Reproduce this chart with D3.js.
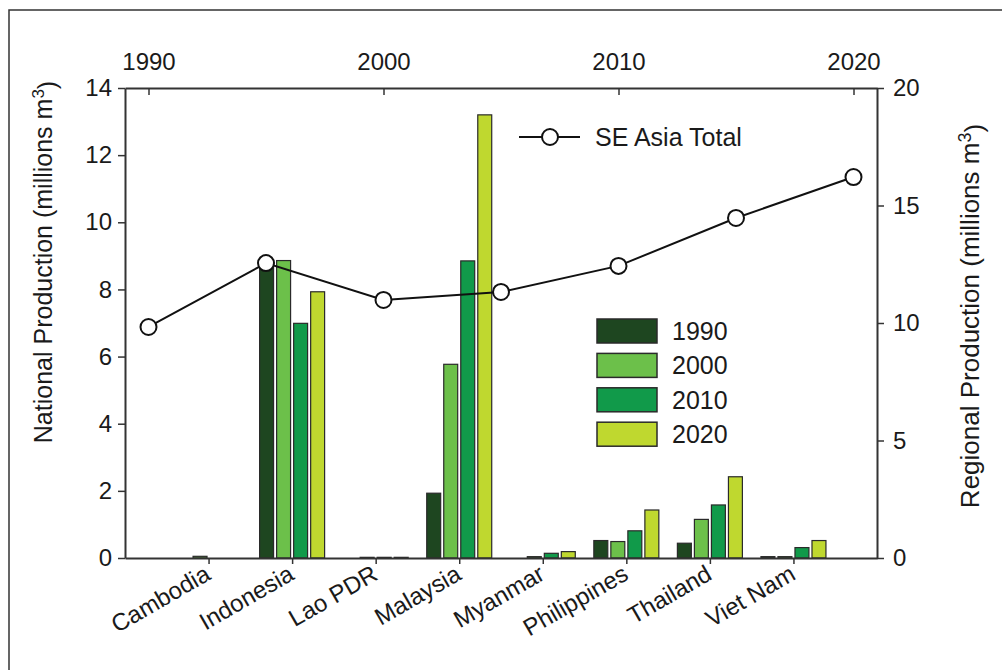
<!DOCTYPE html>
<html><head><meta charset="utf-8">
<script src="https://cdn.jsdelivr.net/npm/d3@7"></script>
<style>
body{margin:0;background:#fff}
text{font-family:"Liberation Sans",Arial,sans-serif;fill:#1a1a1a}
</style></head>
<body><svg id="c" width="1002" height="670"></svg>
<script>
const categories=["Cambodia","Indonesia","Lao PDR","Malaysia","Myanmar","Philippines","Thailand","Viet Nam"];
const seriesNames=["1990","2000","2010","2020"];
const v1990=[0,8.8,0,1.93,0,0.52,0.44,0.04];
const v2000=[0.05,8.86,0.02,5.77,0.04,0.49,1.15,0.04];
const v2010=[0,6.99,0.02,8.85,0.14,0.81,1.58,0.31];
const v2020=[0,7.93,0.02,13.2,0.19,1.43,2.42,0.52];
const seriesColors=["#1e4620","#6cc04a","#119a4a","#bfd82f"];
const totalYears=[1990,1995,2000,2005,2010,2015,2020];
const totalValues=[9.83,12.55,10.98,11.32,12.43,14.47,16.21];
const leftTicks=[0,2,4,6,8,10,12,14];
const rightTicks=[0,5,10,15,20];
const topTicks=[1990,2000,2010,2020];

const series=[v1990,v2000,v2010,v2020];
const svg=d3.select("#c");
const L=125,R=877,T=88,B=558;
const axisColor="#333";
const FONT='"Liberation Sans",Arial,sans-serif';

svg.append("rect").attr("x",9).attr("y",10).attr("width",1100).attr("height",1000)
  .attr("fill","none").attr("stroke","#333").attr("stroke-width",1.5);

const xCat=d3.scaleLinear().domain([0,categories.length+1]).range([L,R]);
const xOff=d3.scaleBand().domain(seriesNames).range([-32.5,32.5]).paddingInner(0.18);
const yL=d3.scaleLinear().domain([0,14]).range([B,T]);
const yR=d3.scaleLinear().domain([0,20]).range([B,T]);
const xYear=d3.scaleLinear().domain([1989,2021]).range([L,R]);

// bars
seriesNames.forEach((s,si)=>{
  const data=categories.map((c,i)=>({i,v:series[si][i]})).filter(d=>d.v>0);
  svg.append("g").selectAll("rect").data(data).join("rect")
    .attr("x",d=>xCat(d.i+1)+xOff(s))
    .attr("width",xOff.bandwidth())
    .attr("y",d=>yL(d.v))
    .attr("height",d=>B-yL(d.v))
    .attr("fill",seriesColors[si])
    .attr("stroke","#2a2a2a").attr("stroke-width",1.2);
});

function styleAxis(g){
  g.selectAll("path.domain").attr("stroke",axisColor).attr("stroke-width",2);
  g.selectAll(".tick line").attr("stroke",axisColor).attr("stroke-width",1.5);
  g.selectAll("text").attr("font-size",24).attr("font-family",FONT).attr("fill","#1a1a1a");
}

svg.append("g").attr("transform",`translate(${L},0)`)
  .call(d3.axisLeft(yL).tickValues(leftTicks).tickSize(7).tickSizeOuter(0).tickPadding(6))
  .call(styleAxis);
svg.append("g").attr("transform",`translate(${R},0)`)
  .call(d3.axisRight(yR).tickValues(rightTicks).tickSize(7).tickSizeOuter(0).tickPadding(9))
  .call(styleAxis);
svg.append("g").attr("transform",`translate(0,${T})`)
  .call(d3.axisTop(xYear).tickValues(topTicks).tickFormat(d3.format("d")).tickSize(-7).tickSizeOuter(0).tickPadding(18))
  .call(styleAxis);
const bx=svg.append("g").attr("transform",`translate(0,${B})`)
  .call(d3.axisBottom(xCat).tickValues(d3.range(1,categories.length+1)).tickFormat("").tickSize(6).tickSizeOuter(0))
  .call(styleAxis);
bx.selectAll(".tick").append("text")
  .attr("text-anchor","end")
  .attr("transform","translate(-6,5) rotate(-30)")
  .attr("dy","0.75em")
  .attr("font-size",24)
  .attr("font-family",FONT)
  .attr("fill","#1a1a1a")
  .text((d,i)=>categories[i]);

// total line
const line=d3.line().x((d,i)=>xYear(totalYears[i])).y(d=>yR(d));
svg.append("path").datum(totalValues).attr("d",line)
  .attr("fill","none").attr("stroke","#111").attr("stroke-width",2);
svg.append("g").selectAll("circle").data(totalValues).join("circle")
  .attr("cx",(d,i)=>xYear(totalYears[i])).attr("cy",d=>yR(d)).attr("r",8)
  .attr("fill","#fff").attr("stroke","#111").attr("stroke-width",2);

// line legend
const lg=svg.append("g");
lg.append("line").attr("x1",519).attr("x2",580).attr("y1",137).attr("y2",137).attr("stroke","#111").attr("stroke-width",2);
lg.append("circle").attr("cx",550).attr("cy",137).attr("r",8).attr("fill","#fff").attr("stroke","#111").attr("stroke-width",2);
lg.append("text").attr("x",595).attr("y",137).attr("dy","0.36em").attr("font-size",25).text("SE Asia Total");

// bar legend
const bl=svg.append("g");
seriesNames.forEach((s,i)=>{
  const y=319+i*34.4;
  bl.append("rect").attr("x",597).attr("y",y).attr("width",60).attr("height",24)
    .attr("fill",seriesColors[i]).attr("stroke","#2a2a2a").attr("stroke-width",1.5);
  bl.append("text").attr("x",672).attr("y",y+12).attr("dy","0.36em").attr("font-size",25).text(s);
});

// axis titles
const t1=svg.append("text").attr("transform","translate(52,262) rotate(-90)").attr("text-anchor","middle").attr("font-size",25);
t1.append("tspan").text("National Production (millions m");
t1.append("tspan").attr("dy","-0.45em").attr("font-size",17).text("3");
t1.append("tspan").attr("dy","0.45em").text(")");
const t2=svg.append("text").attr("transform","translate(979,316) rotate(-90)").attr("text-anchor","middle").attr("font-size",26);
t2.append("tspan").text("Regional Production (millions m");
t2.append("tspan").attr("dy","-0.45em").attr("font-size",18).text("3");
t2.append("tspan").attr("dy","0.45em").text(")");
</script></body></html>
